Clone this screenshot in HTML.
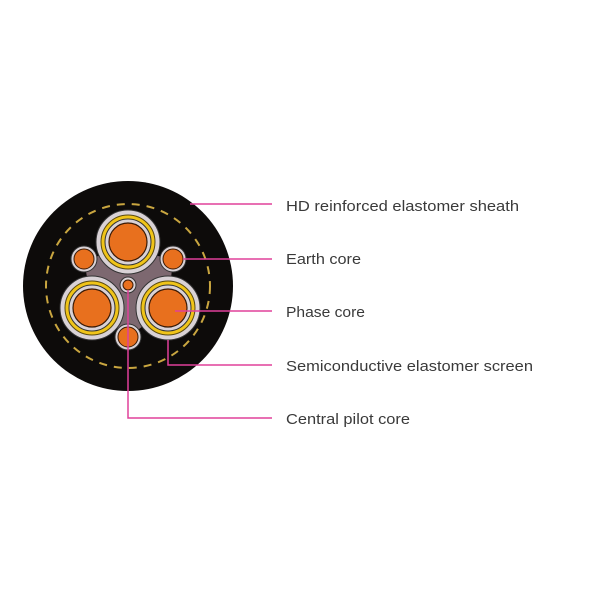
<!DOCTYPE html>
<html><head><style>html,body{margin:0;padding:0;background:#fff;width:600px;height:600px;overflow:hidden}</style></head>
<body>
<svg width="600" height="600" viewBox="0 0 600 600" xmlns="http://www.w3.org/2000/svg">
<circle cx="128" cy="286" r="105" fill="#0d0b0a"/>
<circle cx="128" cy="286" r="82" fill="none" stroke="#c9a640" stroke-width="2" stroke-dasharray="8 7"/>
<!-- filler -->
<polygon points="128,250 95,300 161,300" fill="#7d6870"/>
<circle cx="128" cy="288" r="26" fill="#7d6870"/>
<path d="M84,259 L128,250 L173,259 L168,308 L128,337 L92,308 Z" fill="#7d6870"/>
<g id="ph">
</g>
<!-- phase cores -->
<g>
<circle cx="128" cy="242" r="32" fill="#d9d2d6" stroke="#333" stroke-width="1"/>
<circle cx="128" cy="242" r="27" fill="#f0c419" stroke="#5a4a10" stroke-width="1"/>
<circle cx="128" cy="242" r="23" fill="#d9d2d6" stroke="#333" stroke-width="1"/>
<circle cx="128" cy="242" r="19" fill="#e8701e" stroke="#3a1a05" stroke-width="1.2"/>
</g>
<g>
<circle cx="92" cy="308" r="32" fill="#d9d2d6" stroke="#333" stroke-width="1"/>
<circle cx="92" cy="308" r="27" fill="#f0c419" stroke="#5a4a10" stroke-width="1"/>
<circle cx="92" cy="308" r="23" fill="#d9d2d6" stroke="#333" stroke-width="1"/>
<circle cx="92" cy="308" r="19" fill="#e8701e" stroke="#3a1a05" stroke-width="1.2"/>
</g>
<g>
<circle cx="168" cy="308" r="32" fill="#d9d2d6" stroke="#333" stroke-width="1"/>
<circle cx="168" cy="308" r="27" fill="#f0c419" stroke="#5a4a10" stroke-width="1"/>
<circle cx="168" cy="308" r="23" fill="#d9d2d6" stroke="#333" stroke-width="1"/>
<circle cx="168" cy="308" r="19" fill="#e8701e" stroke="#3a1a05" stroke-width="1.2"/>
</g>
<!-- earth cores -->
<circle cx="84" cy="259" r="13" fill="#d9d2d6" stroke="#333"/>
<circle cx="84" cy="259" r="10" fill="#e8701e" stroke="#3a1a05"/>
<circle cx="173" cy="259" r="13" fill="#d9d2d6" stroke="#333"/>
<circle cx="173" cy="259" r="10" fill="#e8701e" stroke="#3a1a05"/>
<circle cx="128" cy="337" r="13" fill="#d9d2d6" stroke="#333"/>
<circle cx="128" cy="337" r="10" fill="#e8701e" stroke="#3a1a05"/>
<!-- pilot -->
<circle cx="128" cy="285" r="8" fill="#d9d2d6" stroke="#333"/>
<circle cx="128" cy="285" r="5" fill="#e8701e" stroke="#3a1a05"/>
<!-- leader lines -->
<g stroke="#e0409a" stroke-width="1.5" fill="none">
<line x1="190" y1="204" x2="272" y2="204"/>
<line x1="183" y1="259" x2="272" y2="259"/>
<line x1="175" y1="311" x2="272" y2="311"/>
<polyline points="168,340 168,365 272,365"/>
<polyline points="128,290 128,418 272,418"/>
</g>
<g font-family="Liberation Sans, sans-serif" font-size="15" fill="#3a3a3a">
<text x="286" y="211" textLength="233" lengthAdjust="spacingAndGlyphs">HD reinforced elastomer sheath</text>
<text x="286" y="264" textLength="75" lengthAdjust="spacingAndGlyphs">Earth core</text>
<text x="286" y="317" textLength="79" lengthAdjust="spacingAndGlyphs">Phase core</text>
<text x="286" y="371" textLength="247" lengthAdjust="spacingAndGlyphs">Semiconductive elastomer screen</text>
<text x="286" y="424" textLength="124" lengthAdjust="spacingAndGlyphs">Central pilot core</text>
</g>
</svg>
</body></html>
